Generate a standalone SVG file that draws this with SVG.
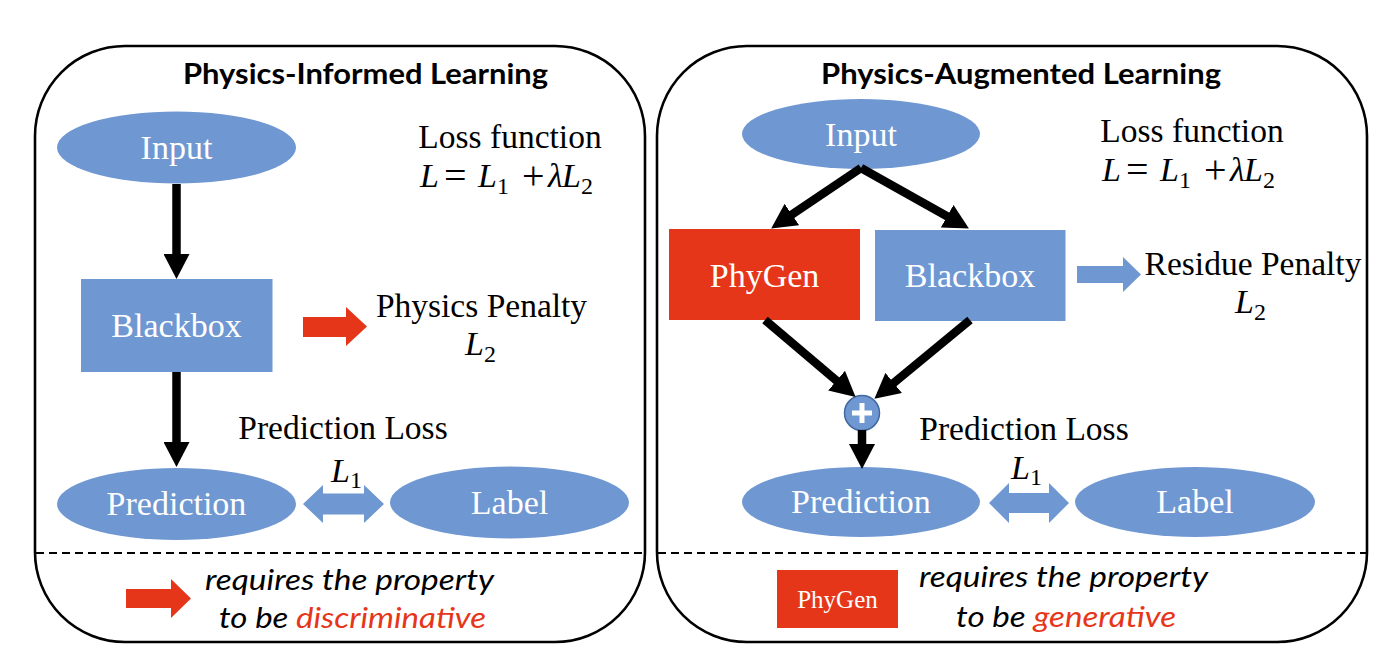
<svg xmlns="http://www.w3.org/2000/svg" width="1400" height="665" viewBox="0 0 1400 665">
  <style>
    .panel { fill: #ffffff; stroke: #000000; stroke-width: 2.6; }
    .dash { stroke: #000000; stroke-width: 2; stroke-dasharray: 8 5; fill: none; }
    .blue { fill: #6F97D2; }
    .red { fill: #E63619; }
    .title { font-family: Lato, "Liberation Sans", sans-serif; font-weight: bold; font-size: 28px; fill: #000000; text-anchor: middle; }
    .node { font-family: "Liberation Serif", "Times New Roman", serif; font-size: 34px; fill: #ffffff; text-anchor: middle; }
    .lbl { font-family: "Liberation Serif", "Times New Roman", serif; font-size: 33.5px; fill: #000000; text-anchor: middle; }
    .math { font-family: "Liberation Serif", "Times New Roman", serif; font-size: 34px; fill: #000000; }
    .op { font-family: "Liberation Serif", "Times New Roman", serif; font-size: 40px; fill: #000000; }
    .it { font-style: italic; }
    .sub { font-style: normal; font-size: 24px; }
    .note { font-family: Lato, "Liberation Sans", sans-serif; font-style: italic; font-size: 29px; fill: #000000; text-anchor: middle; }
    .hl { fill: #E63619; }
    .conn { stroke: #000000; stroke-width: 8.5; fill: none; marker-end: url(#head); }
  </style>
  <defs>
    <marker id="head" viewBox="0 0 25 26" markerWidth="25" markerHeight="26" refX="4" refY="13" orient="auto" markerUnits="userSpaceOnUse">
      <path d="M0,0 L25,13 L0,26 Z" fill="#000000"/>
    </marker>
  </defs>

  <rect width="1400" height="665" fill="#ffffff"/>

  <!-- Panels -->
  <g id="panel-left">
    <rect class="panel" x="35" y="46" width="610" height="596" rx="90" ry="90"/>
    <line class="dash" x1="36" y1="553" x2="644" y2="553"/>
    <text class="title" x="365.5" y="84" textLength="365" lengthAdjust="spacingAndGlyphs">Physics-Informed Learning</text>
  </g>
  <g id="panel-right">
    <rect class="panel" x="657" y="46" width="710" height="596" rx="90" ry="90"/>
    <line class="dash" x1="658" y1="553" x2="1366" y2="553"/>
    <text class="title" x="1021" y="84" textLength="400" lengthAdjust="spacingAndGlyphs">Physics-Augmented Learning</text>
  </g>

  <!-- Left panel nodes -->
  <g id="pil-input">
    <ellipse class="blue" cx="176.5" cy="147.5" rx="119.5" ry="36"/>
    <text class="node" x="176.5" y="159">Input</text>
  </g>
  <g id="pil-blackbox">
    <rect class="blue" x="81" y="279" width="191.5" height="93"/>
    <text class="node" x="176.5" y="337">Blackbox</text>
  </g>
  <g id="pil-prediction">
    <ellipse class="blue" cx="176.5" cy="504" rx="119.5" ry="36"/>
    <text class="node" x="176.5" y="515">Prediction</text>
  </g>
  <g id="pil-label">
    <ellipse class="blue" cx="509.5" cy="502.5" rx="119.5" ry="36"/>
    <text class="node" x="509.5" y="514">Label</text>
  </g>
  <g id="pil-loss">
    <text class="lbl" x="510" y="148">Loss function</text>
    <text class="math it" x="420" y="187">L</text>
    <text class="op" x="444" y="189">=</text>
    <text class="math it" x="478" y="187">L<tspan class="sub" dy="7">1</tspan></text>
    <text class="op" x="522" y="189">+</text>
    <text class="math it" x="548" y="187">λ</text>
    <text class="math it" x="562" y="187">L<tspan class="sub" dy="7">2</tspan></text>
  </g>
  <g id="pil-physics-penalty">
    <path class="red" d="M303,317 H346 V307 L367,326.5 L346,346 V337 H303 Z"/>
    <text class="lbl" x="481.5" y="317">Physics Penalty</text>
    <text class="math it" x="465" y="355">L<tspan class="sub" dy="7">2</tspan></text>
  </g>
  <g id="pil-prediction-loss">
    <text class="lbl" x="343" y="439">Prediction Loss</text>
    <path class="blue" d="M303,504 L323,485 V493.5 H364 V485 L384,504 L364,523 V514.5 H323 V523 Z"/>
    <text class="math it" x="331" y="482">L<tspan class="sub" dy="6">1</tspan></text>
  </g>
  <g id="pil-legend">
    <path class="red" d="M126,589 H171 V579 L191,598.5 L171,618 V608 H126 Z"/>
    <text class="note" x="349.5" y="590" textLength="289" lengthAdjust="spacingAndGlyphs">requires the property</text>
    <text class="note" x="352.5" y="628" textLength="267" lengthAdjust="spacingAndGlyphs">to be <tspan class="hl">discriminative</tspan></text>
  </g>

  <!-- Right panel nodes -->
  <g id="pal-input">
    <ellipse class="blue" cx="861" cy="134" rx="119" ry="35"/>
    <text class="node" x="861" y="146">Input</text>
  </g>
  <g id="pal-phygen">
    <rect class="red" x="669" y="229" width="191" height="91"/>
    <text class="node" x="764.5" y="287">PhyGen</text>
  </g>
  <g id="pal-blackbox">
    <rect class="blue" x="875" y="230" width="190.5" height="91"/>
    <text class="node" x="970" y="287">Blackbox</text>
  </g>
  <g id="pal-plus">
    <circle cx="862" cy="413" r="17.5" fill="#6F97D2" stroke="#41689F" stroke-width="1.5"/>
    <rect x="852" y="410.5" width="20" height="5" fill="#ffffff"/>
    <rect x="859.5" y="403" width="5" height="20" fill="#ffffff"/>
  </g>
  <g id="pal-prediction">
    <ellipse class="blue" cx="861" cy="502" rx="119" ry="35"/>
    <text class="node" x="861" y="513">Prediction</text>
  </g>
  <g id="pal-label">
    <ellipse class="blue" cx="1195" cy="502" rx="120" ry="35"/>
    <text class="node" x="1195" y="513">Label</text>
  </g>
  <g id="pal-loss" transform="translate(682,-6)">
    <text class="lbl" x="510" y="148">Loss function</text>
    <text class="math it" x="420" y="187">L</text>
    <text class="op" x="444" y="189">=</text>
    <text class="math it" x="478" y="187">L<tspan class="sub" dy="7">1</tspan></text>
    <text class="op" x="522" y="189">+</text>
    <text class="math it" x="548" y="187">λ</text>
    <text class="math it" x="562" y="187">L<tspan class="sub" dy="7">2</tspan></text>
  </g>
  <g id="pal-residue-penalty">
    <path class="blue" d="M1077,266 H1123 V257 L1141,274.5 L1123,292 V283 H1077 Z"/>
    <text class="lbl" x="1253" y="275">Residue Penalty</text>
    <text class="math it" x="1235" y="313">L<tspan class="sub" dy="7">2</tspan></text>
  </g>
  <g id="pal-prediction-loss">
    <text class="lbl" x="1024" y="440">Prediction Loss</text>
    <path class="blue" d="M989,503 L1009,483 V493 H1049 V483 L1069,503 L1049,523 V513 H1009 V523 Z"/>
    <text class="math it" x="1011" y="479">L<tspan class="sub" dy="6">1</tspan></text>
  </g>
  <g id="pal-legend">
    <rect class="red" x="777" y="570" width="121" height="58"/>
    <text class="node" x="837.5" y="608" style="font-size:25px">PhyGen</text>
    <text class="note" x="1063.5" y="587" textLength="289" lengthAdjust="spacingAndGlyphs">requires the property</text>
    <text class="note" x="1066" y="627" textLength="220" lengthAdjust="spacingAndGlyphs">to be <tspan class="hl">generative</tspan></text>
  </g>

  <!-- Connectors -->
  <g id="connectors">
    <line class="conn" x1="176.5" y1="184" x2="176.5" y2="258"/>
    <line class="conn" x1="176.5" y1="372" x2="176.5" y2="446"/>
    <line class="conn" x1="861" y1="168" x2="788.6" y2="216.8"/>
    <line class="conn" x1="861" y1="168" x2="950.6" y2="218.2"/>
    <line class="conn" x1="765" y1="320" x2="839.6" y2="383.3"/>
    <line class="conn" x1="970" y1="320" x2="890.6" y2="385.5"/>
    <line class="conn" x1="862" y1="430" x2="862" y2="448"/>
  </g>
</svg>
